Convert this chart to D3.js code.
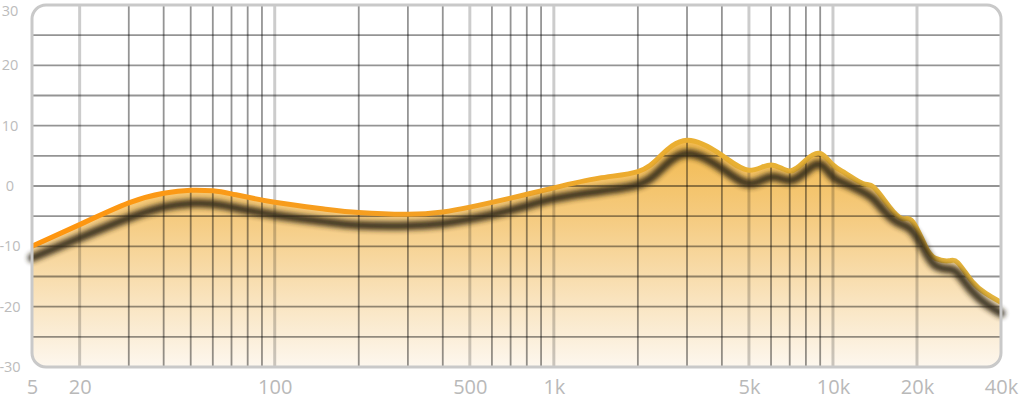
<!DOCTYPE html>
<html><head><meta charset="utf-8">
<script src="https://cdn.jsdelivr.net/npm/d3@7/dist/d3.min.js"></script>
<style>body{margin:0;background:#fff;} svg{display:block;}</style>
</head><body><svg id="c" width="1024" height="401"></svg>
<script>
// ---- data ----
const freqs = [13.5, 20, 30, 40, 50, 60, 70, 100, 150, 200, 300, 400, 500, 700, 1000, 1450, 2000, 2400, 3000, 4000, 5000, 6000, 7000, 8000, 9000, 10000, 11100, 12800, 14000, 15900, 17700, 19300, 21500, 23300, 26000, 28000, 31600, 35300, 40000];
const targetDb = [-10.0, -6.4, -2.8, -1.2, -0.7, -0.8, -1.3, -2.7, -3.8, -4.4, -4.7, -4.3, -3.5, -2.0, -0.3, 1.3, 2.4, 4.9, 7.6, 5.1, 2.6, 3.5, 2.5, 4.3, 5.4, 3.5, 2.1, 0.4, -0.2, -3.4, -5.4, -5.9, -10.1, -12.0, -12.4, -12.7, -15.9, -17.8, -19.3];
const measuredDb = [-11.9, -8.6, -5.3, -3.5, -2.9, -3.0, -3.5, -4.8, -5.9, -6.5, -6.6, -6.2, -5.5, -4.0, -2.1, -0.9, 0.2, 2.6, 5.4, 2.9, 0.4, 1.5, 0.9, 2.4, 3.6, 1.5, 0.4, -1.0, -2.2, -5.0, -6.4, -7.5, -11.0, -13.2, -13.8, -14.5, -17.5, -19.5, -21.1];
const xTickFreqs = [13.5, 20, 100, 500, 1000, 5000, 10000, 20000, 40000];
const xTickLabels = ["5", "20", "100", "500", "1k", "5k", "10k", "20k", "40k"];
const yTickValues = [30, 20, 10, 0, -10, -20, -30];
const yTickLabels = ["30", "20", "10", "0", "-10", "-20", "-30"];
const yGridValues = [25, 20, 15, 10, 5, 0, -5, -10, -15, -20, -25];
const majorGridFreqs = [20, 100, 500, 1000, 5000, 10000, 20000];
const minorGridFreqs = [30, 40, 50, 60, 70, 80, 90, 200, 300, 400, 600, 700, 800, 900, 2000, 3000, 4000, 6000, 7000, 8000, 9000];

// ---- layout ----
const plot = {left: 32, right: 1001, top: 5, bottom: 367};
const x = d3.scaleLog().domain([13.5, 40000]).range([plot.left, plot.right]);
const y = d3.scaleLinear().domain([-30, 30]).range([plot.bottom, plot.top]);

const svg = d3.select("#c");
const defs = svg.append("defs");

defs.append("clipPath").attr("id", "frameClip")
  .append("rect").attr("x", plot.left).attr("y", plot.top)
  .attr("width", plot.right - plot.left).attr("height", plot.bottom - plot.top)
  .attr("rx", 14).attr("ry", 14);

const fillGrad = defs.append("linearGradient").attr("id", "fillGrad")
  .attr("gradientUnits", "userSpaceOnUse").attr("x1", 0).attr("x2", 0)
  .attr("y1", y(8)).attr("y2", y(-30));
fillGrad.append("stop").attr("offset", 0).attr("stop-color", "#f2b94c");
fillGrad.append("stop").attr("offset", 0.35).attr("stop-color", "#f5cb80");
fillGrad.append("stop").attr("offset", 0.7).attr("stop-color", "#f9e3bd");
fillGrad.append("stop").attr("offset", 1).attr("stop-color", "#fdf7ee");

const lineGrad = defs.append("linearGradient").attr("id", "lineGrad")
  .attr("gradientUnits", "userSpaceOnUse").attr("y1", 0).attr("y2", 0)
  .attr("x1", plot.left).attr("x2", plot.right);
lineGrad.append("stop").attr("offset", 0).attr("stop-color", "#ff950e");
lineGrad.append("stop").attr("offset", 0.4).attr("stop-color", "#f4a023");
lineGrad.append("stop").attr("offset", 0.7).attr("stop-color", "#e9b033");
lineGrad.append("stop").attr("offset", 1).attr("stop-color", "#e3b43e");

const blur = defs.append("filter").attr("id", "blur")
  .attr("x", "-5%").attr("y", "-20%").attr("width", "110%").attr("height", "140%");
blur.append("feGaussianBlur").attr("stdDeviation", 2.8);

const pts = (arr) => freqs.map((f, i) => [f, arr[i]]);
const line = d3.line().x(d => x(d[0])).y(d => y(d[1])).curve(d3.curveNatural);
const area = d3.area().x(d => x(d[0])).y0(y(-30)).y1(d => y(d[1])).curve(d3.curveNatural);

const inner = svg.append("g").attr("clip-path", "url(#frameClip)");

// fill
inner.append("path").datum(pts(targetDb)).attr("d", area).attr("fill", "url(#fillGrad)");

// measured (dark, blurred) curve
svg.append("path").datum(pts(measuredDb)).attr("d", line)
  .attr("fill", "none").attr("stroke", "#2f2616").attr("stroke-width", 8.5)
  .attr("stroke-linecap", "round").attr("opacity", 0.9).attr("filter", "url(#blur)");

// grid
const grid = inner.append("g");
grid.selectAll("line.h").data(yGridValues).join("line").attr("class", "h")
  .attr("x1", plot.left).attr("x2", plot.right)
  .attr("y1", d => y(d)).attr("y2", d => y(d))
  .attr("stroke", "rgba(0,0,0,0.42)").attr("stroke-width", 1.8);
grid.selectAll("line.vmin").data(minorGridFreqs).join("line").attr("class", "vmin")
  .attr("x1", d => x(d)).attr("x2", d => x(d))
  .attr("y1", plot.top).attr("y2", plot.bottom)
  .attr("stroke", "rgba(0,0,0,0.42)").attr("stroke-width", 1.8);
grid.selectAll("line.vmaj").data(majorGridFreqs).join("line").attr("class", "vmaj")
  .attr("x1", d => x(d)).attr("x2", d => x(d))
  .attr("y1", plot.top).attr("y2", plot.bottom)
  .attr("stroke", "rgba(0,0,0,0.2)").attr("stroke-width", 3);

// target (orange) curve
inner.append("path").datum(pts(targetDb)).attr("d", line)
  .attr("fill", "none").attr("stroke", "url(#lineGrad)").attr("stroke-width", 5)
  .attr("stroke-linejoin", "round");

// frame
svg.append("rect").attr("x", plot.left).attr("y", plot.top)
  .attr("width", plot.right - plot.left).attr("height", plot.bottom - plot.top)
  .attr("rx", 14).attr("ry", 14).attr("fill", "none")
  .attr("stroke", "#c9c9c9").attr("stroke-width", 3);

// axes (labels only)
const xAxis = d3.axisBottom(x).tickValues(xTickFreqs)
  .tickFormat((d, i) => xTickLabels[i]).tickSize(0).tickPadding(0);
const gx = svg.append("g").attr("transform", "translate(0,379)").call(xAxis);
gx.select(".domain").remove();
gx.selectAll("text").attr("font-family", "'Open Sans', sans-serif").attr("font-size", 20)
  .attr("fill", "#b9b9b9").attr("dy", "0.76em");

const yAxis = d3.axisLeft(y).tickValues(yTickValues)
  .tickFormat((d, i) => yTickLabels[i]).tickSize(0).tickPadding(0);
const gy = svg.append("g").attr("transform", "translate(10,0)").call(yAxis);
gy.select(".domain").remove();
gy.selectAll("text").attr("font-family", "'Open Sans', sans-serif").attr("font-size", 14.5)
  .attr("fill", "#bcbcbc").attr("text-anchor", "middle")
  .attr("dy", (d, i) => i === 0 ? "0.72em" : "0.32em");
</script></body></html>
